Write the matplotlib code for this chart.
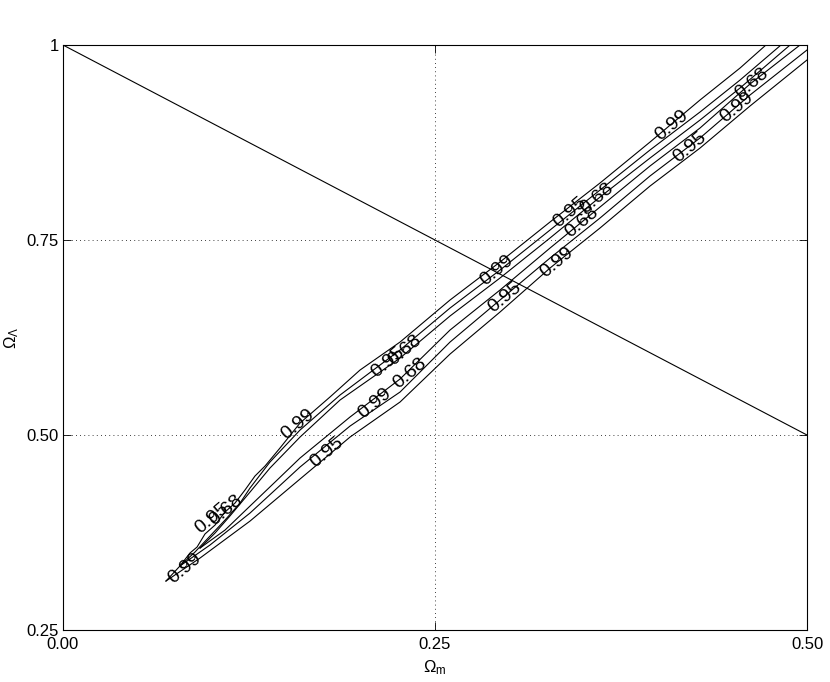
import matplotlib
matplotlib.use("Agg")
import matplotlib.pyplot as plt

plt.rcParams['font.family'] = ['Liberation Sans', 'DejaVu Sans']
plt.rcParams['mathtext.fontset'] = 'custom'
plt.rcParams['mathtext.rm'] = 'Liberation Sans'
plt.rcParams['mathtext.it'] = 'Liberation Sans'

# confidence contours (upper / lower side of the band)
u99_x = [0.0692, 0.0786, 0.0853, 0.0901, 0.0954, 0.1022, 0.1089, 0.1156, 0.1223, 0.1290, 0.1358, 0.1458,
         0.1593, 0.1794, 0.1996, 0.2265, 0.2601, 0.2937, 0.3273, 0.3609, 0.3945, 0.4281, 0.4550, 0.4724]
u99_y = [0.3128, 0.3321, 0.3487, 0.3564, 0.3731, 0.3846, 0.4013, 0.4128, 0.4295, 0.4474, 0.4603, 0.4833,
         0.5154, 0.5487, 0.5833, 0.6192, 0.6731, 0.7218, 0.7731, 0.8231, 0.8756, 0.9295, 0.9705, 1.0]
u95_x = [0.0786, 0.0887, 0.0988, 0.1089, 0.1190, 0.1257, 0.1391, 0.1593, 0.1862, 0.2265, 0.2601, 0.2937,
         0.3273, 0.3609, 0.3945, 0.4281, 0.4550, 0.4825]
u95_y = [0.3321, 0.3500, 0.3705, 0.3910, 0.4128, 0.4321, 0.4654, 0.5064, 0.5513, 0.6090, 0.6628, 0.7115,
         0.7628, 0.8141, 0.8654, 0.9141, 0.9551, 1.0]
u68_x = [0.0921, 0.1022, 0.1122, 0.1257, 0.1391, 0.1593, 0.1862, 0.2265, 0.2601, 0.2937, 0.3273, 0.3609,
         0.3945, 0.4281, 0.4550, 0.4886]
u68_y = [0.3551, 0.3744, 0.3962, 0.4269, 0.4577, 0.4974, 0.5449, 0.5987, 0.6526, 0.7013, 0.7526, 0.8051,
         0.8551, 0.9038, 0.9449, 1.0]
l68_x = [0.0921, 0.1089, 0.1257, 0.1425, 0.1593, 0.1929, 0.2265, 0.2601, 0.2937, 0.3273, 0.3609, 0.3945,
         0.4281, 0.4617, 0.4953]
l68_y = [0.3551, 0.3782, 0.4090, 0.4397, 0.4705, 0.5231, 0.5718, 0.6346, 0.6859, 0.7397, 0.7923, 0.8449,
         0.8936, 0.9500, 1.0]
l95_x = [0.0786, 0.0988, 0.1257, 0.1593, 0.1929, 0.2265, 0.2601, 0.2937, 0.3273, 0.3609, 0.3945, 0.4281,
         0.4617, 0.5]
l95_y = [0.3321, 0.3590, 0.4000, 0.4590, 0.5115, 0.5551, 0.6192, 0.6731, 0.7269, 0.7782, 0.8321, 0.8808,
         0.9359, 0.9936]
l99_x = [0.0692, 0.0921, 0.1257, 0.1593, 0.1929, 0.2265, 0.2601, 0.2937, 0.3273, 0.3609, 0.3945, 0.4281,
         0.4617, 0.5]
l99_y = [0.3128, 0.3423, 0.3897, 0.4436, 0.4974, 0.5423, 0.6038, 0.6577, 0.7141, 0.7654, 0.8192, 0.8679,
         0.9218, 0.9808]

# flat universe line
flat_x = [0.0, 0.5]
flat_y = [1.0, 0.5]

label_text = ['0.99', '0.95', '0.68', '0.99', '0.95', '0.99', '0.95', '0.68', '0.68', '0.99', '0.95',
              '0.99', '0.95', '0.68', '0.68', '0.99', '0.95', '0.99', '0.68']
label_x = [0.0820, 0.1001, 0.1095, 0.1579, 0.1774, 0.2097, 0.2184, 0.2298, 0.2332, 0.2917, 0.2970,
           0.3320, 0.3407, 0.3488, 0.3589, 0.4093, 0.4214, 0.4530, 0.4630]
label_y = [0.3295, 0.3936, 0.4038, 0.5141, 0.4782, 0.5410, 0.5936, 0.6090, 0.5795, 0.7115, 0.6769,
           0.7218, 0.7859, 0.7731, 0.8038, 0.8974, 0.8692, 0.9205, 0.9513]

xticks = [0.0, 0.25, 0.5]
xticklabels = ['0.00', '0.25', '0.50']
yticks = [0.25, 0.5, 0.75, 1.0]
yticklabels = ['0.25', '0.50', '0.75', '1']

fig = plt.figure(figsize=(8.3, 6.82), dpi=100)
ax = fig.add_axes([0.0759, 0.0762, 0.8964, 0.8578])

for xs, ys in [(u99_x, u99_y), (u95_x, u95_y), (u68_x, u68_y),
               (l68_x, l68_y), (l95_x, l95_y), (l99_x, l99_y)]:
    ax.plot(xs, ys, color='black', linewidth=0.8)
ax.plot(flat_x, flat_y, color='black', linewidth=0.8)

for t, x, y in zip(label_text, label_x, label_y):
    ax.text(x, y, t, fontsize=14, rotation=40, ha='center', va='center')

ax.set_xlim(0, 0.5)
ax.set_ylim(0.25, 1.0)
ax.set_xticks(xticks)
ax.set_xticklabels(xticklabels)
ax.set_yticks(yticks)
ax.set_yticklabels(yticklabels)
ax.tick_params(direction='in', top=True, right=True, labelsize=12, length=6, width=0.6)
ax.tick_params(axis='x', pad=5)
ax.tick_params(axis='y', pad=3)
for s in ax.spines.values():
    s.set_linewidth(0.8)
ax.grid(True, linestyle=(0, (1, 4)), color='black', linewidth=0.6)

ax.set_xlabel(r'$\Omega_{\rm m}$', fontsize=12)
ax.set_ylabel(r'$\Omega_\Lambda$', fontsize=12)
ax.xaxis.set_label_coords(0.5, -0.048)
ax.yaxis.set_label_coords(-0.056, 0.5)

fig.savefig('out.png', dpi=100)
